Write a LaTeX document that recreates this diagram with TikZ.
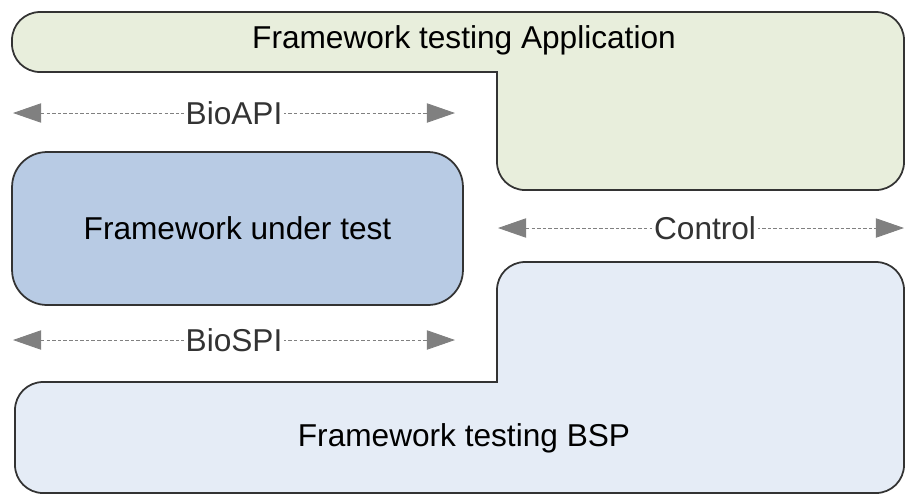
\documentclass[tikz,border=0pt]{standalone}
\usepackage{fontspec}
\setsansfont{Liberation Sans}
\usetikzlibrary{arrows.meta}

\definecolor{appFill}{RGB}{232,238,220}
\definecolor{futFill}{RGB}{184,203,228}
\definecolor{bspFill}{RGB}{229,236,246}
\definecolor{edgeGray}{RGB}{51,51,51}
\definecolor{arrowGray}{RGB}{128,128,128}

\begin{document}
\begin{tikzpicture}[x = 0.02cm, y = -0.02cm, font = \sffamily\fontsize{18}{22}\selectfont]
	\tikzstyle{blockStyle} = [draw = edgeGray, line width = 1pt]
	\tikzstyle{appStyle} = [blockStyle, fill = appFill, rounded corners = 0.56cm]
	\tikzstyle{bspStyle} = [blockStyle, fill = bspFill, rounded corners = 0.56cm]
	\tikzstyle{futStyle} = [blockStyle, fill = futFill, rounded corners = 0.7cm, minimum width = 9.02cm, minimum height = 3.06cm]
	\tikzstyle{ifaceStyle} = [draw = arrowGray, line width = 0.5pt, dash pattern = on 2pt off 1.2pt, {Triangle[length = 16pt, width = 11pt, fill = arrowGray]}-{Triangle[length = 16pt, width = 11pt, fill = arrowGray]}]
	\tikzstyle{ifaceLabel} = [fill = white, inner sep = 1pt, text = black!80]
	\useasboundingbox (0,0) rectangle (906,495);
	% testing application (top)
	\draw[appStyle] (497,72) -- (12,72) -- (12,12) -- (904,12) -- (904,190) -- (497,190) -- (497,130) [sharp corners] -- cycle;
	\node (app) at (464,40) {Framework testing Application};
	% framework under test
	\node[futStyle] (fut) at (237.5,228.5) {Framework under test};
	% testing BSP (bottom)
	\draw[bspStyle] (497,382) -- (497,262) -- (904,262) -- (904,493) -- (15,493) -- (15,382) -- (300,382) [sharp corners] -- cycle;
	\node (bsp) at (464,438) {Framework testing BSP};
	% interfaces
	\coordinate (apiL) at (13,113);
	\coordinate (apiR) at (455,113);
	\coordinate (spiL) at (13,340);
	\coordinate (spiR) at (455,340);
	\coordinate (ctlL) at (498,228);
	\coordinate (ctlR) at (904,228);
	\draw[ifaceStyle] (apiL) -- node[ifaceLabel] (api) {BioAPI} (apiR);
	\draw[ifaceStyle] (spiL) -- node[ifaceLabel] (spi) {BioSPI} (spiR);
	\draw[ifaceStyle] (ctlL) -- node[ifaceLabel, pos = 0.51] (ctl) {Control} (ctlR);
\end{tikzpicture}
\end{document}
